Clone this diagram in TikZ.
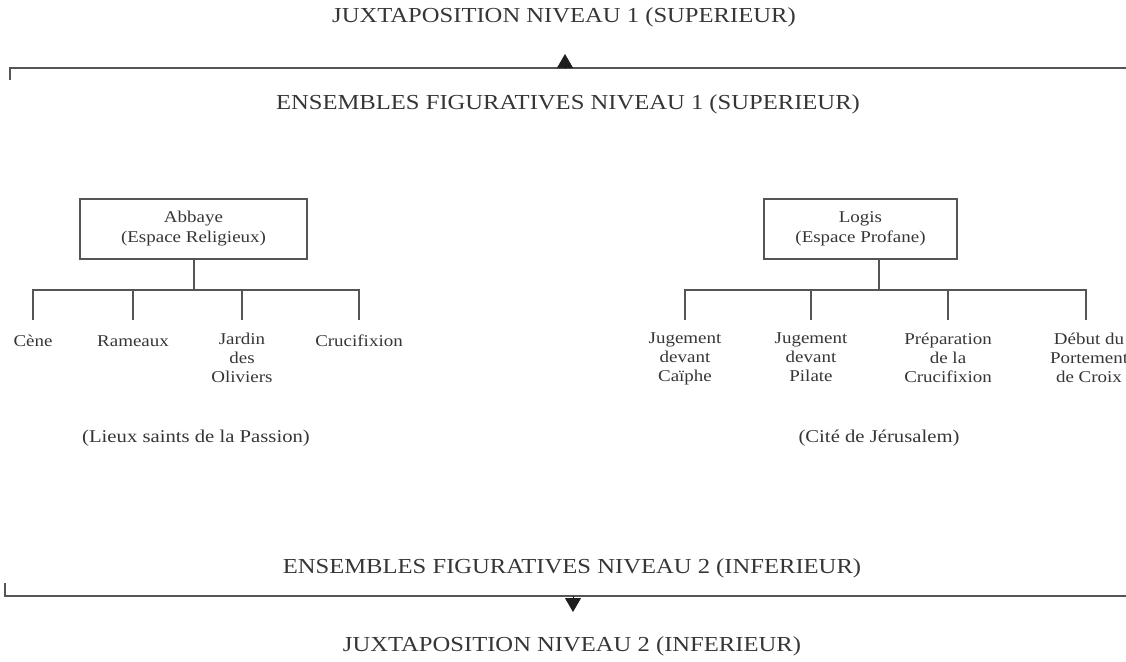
\documentclass[tikz,border=0pt]{standalone}
\usepackage{fontspec}
\setmainfont[FakeStretch=1.15]{Liberation Serif}
\usetikzlibrary{positioning,arrows.meta}
\definecolor{ink}{HTML}{363636}
\definecolor{rule}{HTML}{555555}
\definecolor{head}{HTML}{1E1E1E}

\begin{document}
\begin{tikzpicture}
[x=1pt,y=1pt,
 heading/.style={font=\fontsize{21.4}{24}\selectfont,text=ink,inner sep=0pt},
 branch/.style={shape=rectangle,draw=rule,line width=1.3pt,text=ink,align=center,
   font=\fontsize{16.5}{20}\selectfont,minimum height=60pt},
 leaf/.style={text=ink,align=center,font=\fontsize{16.5}{19}\selectfont,
   inner sep=0pt,outer ysep=12.7pt,anchor=north,execute at begin node={\strut}},
 place/.style={text=ink,font=\fontsize{18}{20}\selectfont,inner sep=0pt},
 link/.style={draw=rule,line width=1.3pt},
 tip/.style={-{Triangle[width=16pt,length=14pt]},draw=head,fill=head,line width=0.8pt}]
\useasboundingbox (0,0) rectangle (1126,-661);

% niveau superieur
\node[heading] (juxtsup) at (564,-17) {JUXTAPOSITION NIVEAU 1 (SUPERIEUR)};
\coordinate (supstart) at (10,-80);
\coordinate (supcorner) at (10,-68);
\coordinate (supend) at (1126,-68);
\coordinate (suptipbase) at (565,-68);
\coordinate (suptip) at (565,-54);
\draw[link] (supstart) -- (supcorner) -- (supend);
\draw[tip] (suptipbase) -- (suptip);
\node[heading] (enssup) at (568,-104) {ENSEMBLES FIGURATIVES NIVEAU 1 (SUPERIEUR)};

% espaces
\node[branch,minimum width=227pt] (abbaye) at (193.5,-229) {Abbaye\\(Espace Religieux)};
\node[branch,minimum width=193pt] (logis) at (860.5,-229) {Logis\\(Espace Profane)};
\coordinate (abbayebus) at (194,-290);
\coordinate (logisbus) at (879,-290);
\draw[link] (abbaye.south -| abbayebus) -- (abbayebus);
\draw[link] (logis.south -| logisbus) -- (logisbus);

% scenes
\node[leaf] (cene) at (33,-320) {Cène};
\node[leaf] (rameaux) at (133,-320) {Rameaux};
\node[leaf] (jardin) at (242,-320) {Jardin\\des\\Oliviers};
\node[leaf] (crucifixion) at (359,-320) {Crucifixion};
\node[leaf] (caiphe) at (685,-320) {Jugement\\devant\\Caïphe};
\node[leaf] (pilate) at (811,-320) {Jugement\\devant\\Pilate};
\node[leaf] (preparation) at (948,-320) {Préparation\\de la\\Crucifixion};
\node[leaf] (debut) at (1089,-320) {Début du\\Portement\\de Croix};
\coordinate (debutstem) at (1086,-320);

\foreach \scene in {cene,rameaux,jardin,crucifixion}
  \draw[link] (\scene.north) |- (abbayebus);
\foreach \scene in {caiphe,pilate,preparation}
  \draw[link] (\scene.north) |- (logisbus);
\draw[link] (debutstem) |- (logisbus);

\node[place] (lieux) at (196,-438) {(Lieux saints de la Passion)};
\node[place] (cite) at (879,-438) {(Cité de Jérusalem)};

% niveau inferieur
\node[heading] (ensinf) at (572,-568) {ENSEMBLES FIGURATIVES NIVEAU 2 (INFERIEUR)};
\coordinate (infstart) at (5,-583);
\coordinate (infcorner) at (5,-596);
\coordinate (infend) at (1126,-596);
\coordinate (inftipbase) at (573,-596);
\coordinate (inftip) at (573,-612);
\draw[link] (infstart) -- (infcorner) -- (infend);
\draw[tip] (inftipbase) -- (inftip);
\node[heading] (juxtinf) at (572,-646) {JUXTAPOSITION NIVEAU 2 (INFERIEUR)};
\end{tikzpicture}
\end{document}
